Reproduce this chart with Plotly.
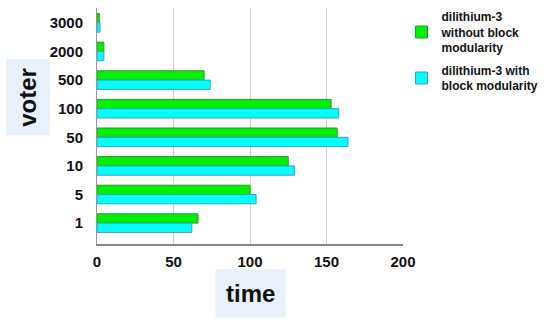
import plotly.graph_objects as go

voters = ["1", "5", "10", "50", "100", "500", "2000", "3000"]
without_block = [66, 100, 125, 157, 153, 70, 4.5, 1.5]
with_block = [62, 104, 129, 164, 158, 74, 4.5, 2]
x_ticks = [0, 50, 100, 150, 200]

fig = go.Figure()
fig.add_trace(go.Bar(
    y=voters, x=without_block, orientation="h",
    name="dilithium-3<br>without block<br>modularity", legendgroup="a",
    marker=dict(color="#00f000", line=dict(color="#2a9a2a", width=1)),
))
fig.add_trace(go.Bar(
    y=voters, x=with_block, orientation="h",
    name="dilithium-3 with<br>block modularity", legendgroup="b",
    marker=dict(color="#00ffff", line=dict(color="#3aa0c0", width=1)),
))

fig.update_layout(
    width=550, height=326,
    margin=dict(l=97, r=147, t=8, b=82, autoexpand=False),
    paper_bgcolor="white", plot_bgcolor="white",
    barmode="group", bargap=0.35, bargroupgap=0,
    font=dict(family="Liberation Sans, Arial, sans-serif", color="#111"),
    legend=dict(
        x=0.995, y=1.025, xanchor="left", yanchor="top",
        traceorder="grouped",
        font=dict(size=12, color="#111", family="Liberation Sans, Arial, sans-serif", weight="bold"),
        tracegroupgap=4, bgcolor="rgba(0,0,0,0)",
    ),
    xaxis=dict(
        range=[0, 200], tickvals=x_ticks,
        showgrid=True, gridcolor="#d0d0d0", gridwidth=1,
        showline=True, linecolor="#888", linewidth=2,
        tickfont=dict(size=15, weight="bold", color="#111"),
        ticklabelstandoff=3,
        zeroline=False, fixedrange=True, automargin=False,
    ),
    yaxis=dict(
        type="category", categoryorder="array", categoryarray=voters[::-1],
        range=[7.73, -0.52],
        showline=True, linecolor="#999", linewidth=1,
        tickfont=dict(size=15, weight="bold", color="#111"),
        ticklabelstandoff=10,
        ticks="", ticklen=0, showgrid=False, automargin=False,
    ),
    annotations=[
        dict(text="voter", xref="paper", yref="paper",
             x=-0.225, y=0.62, xanchor="center", yanchor="middle",
             textangle=-90, showarrow=False,
             font=dict(size=24, weight="bold", color="#111"),
             bgcolor="#e8f0fb", borderpad=8),
        dict(text="time", xref="paper", yref="paper",
             x=0.5, y=-0.21, xanchor="center", yanchor="middle",
             showarrow=False,
             font=dict(size=24, weight="bold", color="#111"),
             bgcolor="#e8f0fb", borderpad=10),
    ],
)

fig.write_html("out.html", config={"displayModeBar": False},
               post_script="document.body.style.margin='0';")
